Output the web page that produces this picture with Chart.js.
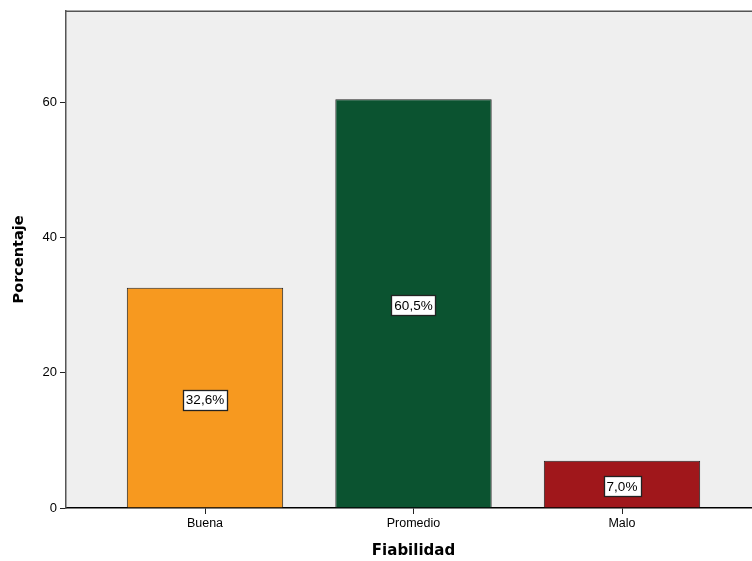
<!DOCTYPE html>
<html>
<head>
<meta charset="utf-8">
<script src="https://cdn.jsdelivr.net/npm/chart.js@4.4.1/dist/chart.umd.min.js"></script>
<style>
  html, body { margin: 0; padding: 0; background: #fff; overflow: hidden; }
  #wrap { position: relative; width: 770px; height: 561px; }
</style>
</head>
<body>
<div id="wrap"><canvas id="c"></canvas></div>
<script>
const categories = ['Buena', 'Promedio', 'Malo'];
const percentages = [32.6, 60.5, 7.0];
const barColors = ['#F7991F', '#0B5330', '#A0171B'];
const yTicks = [0, 20, 40, 60];
const xTitle = 'Fiabilidad';
const yTitle = 'Porcentaje';

const bgPlugin = {
  id: 'bg',
  beforeDraw(chart) {
    const {ctx, chartArea: a} = chart;
    ctx.save();
    ctx.fillStyle = '#EFEFEF';
    ctx.fillRect(a.left, a.top, a.right - a.left, a.bottom - a.top);
    ctx.restore();
  },
  afterDraw(chart) {
    const {ctx, chartArea: a} = chart;
    ctx.save();
    ctx.strokeStyle = '#555';
    ctx.lineWidth = 1.5;
    ctx.beginPath();
    ctx.moveTo(a.left, a.top + 0.5);
    ctx.lineTo(a.right, a.top + 0.5);
    ctx.lineTo(a.right, a.bottom);
    ctx.stroke();
    ctx.restore();
  }
};

const labelPlugin = {
  id: 'valLabels',
  afterDatasetsDraw(chart) {
    const {ctx} = chart;
    const meta = chart.getDatasetMeta(0);
    ctx.save();
    ctx.font = '13.5px "Liberation Sans", Arial, sans-serif';
    ctx.textAlign = 'center';
    ctx.textBaseline = 'middle';
    meta.data.forEach((el, i) => {
      const txt = percentages[i].toFixed(1).replace('.', ',') + '%';
      const cx = el.x;
      const cy = (el.y + el.base) / 2 + 2;
      const w = ctx.measureText(txt).width + 6;
      const h = 20;
      const x0 = Math.round(cx - w / 2) + 0.5, y0 = Math.round(cy - h / 2) + 0.5;
      ctx.fillStyle = '#fff';
      ctx.fillRect(x0, y0, Math.round(w), h);
      ctx.strokeStyle = '#222';
      ctx.lineWidth = 1.3;
      ctx.strokeRect(x0, y0, Math.round(w), h);
      ctx.fillStyle = '#000';
      ctx.fillText(txt, cx, cy + 1);
    });
    ctx.restore();
  }
};

new Chart(document.getElementById('c'), {
  type: 'bar',
  data: {
    datasets: [{
      data: categories.map((c, i) => ({x: i + 1, y: percentages[i]})),
      backgroundColor: barColors,
      borderColor: '#222',
      borderWidth: 1,
      barPercentage: 0.75,
      categoryPercentage: 1.0
    }]
  },
  options: {
    responsive: true,
    maintainAspectRatio: false,
    animation: false,
    devicePixelRatio: 1,
    layout: { padding: { top: 10, right: 9, left: 0, bottom: 0 } },
    plugins: { legend: { display: false }, tooltip: { enabled: false } },
    scales: {
      x: {
        type: 'linear',
        offset: false,
        min: 1 / 3,
        max: 11 / 3,
        afterBuildTicks(scale) { scale.ticks = categories.map((c, i) => ({value: i + 1})); },
        afterFit(scale) { scale.height = 53; },
        ticks: {
          callback: (v) => categories[Math.round(v) - 1] || '',
          color: '#000',
          font: { family: '"Liberation Sans", Arial, sans-serif', size: 12.5 },
          padding: 2,
          maxRotation: 0,
          autoSkip: false
        },
        grid: { offset: false, drawOnChartArea: false, drawTicks: true, tickLength: 6, color: '#222' },
        border: { display: true, color: '#000', width: 1.5 },
        title: {
          display: true, text: xTitle, color: '#000',
          font: { family: '"DejaVu Sans", sans-serif', size: 15, weight: 'bold' },
          padding: { top: 1, bottom: 1 }
        }
      },
      y: {
        min: 0,
        max: 73.6,
        afterBuildTicks(scale) { scale.ticks = yTicks.map(v => ({value: v})); },
        afterFit(scale) { scale.width = 66; },
        ticks: {
          color: '#000',
          font: { family: '"Liberation Sans", Arial, sans-serif', size: 13 },
          padding: 3
        },
        grid: { drawOnChartArea: false, drawTicks: true, tickLength: 6, color: '#222' },
        border: { display: true, color: '#555', width: 1.5 },
        title: {
          display: true, text: yTitle, color: '#000',
          font: { family: '"DejaVu Sans", sans-serif', size: 14.5, weight: 'bold' },
          padding: { top: 11, bottom: 11 }
        }
      }
    }
  },
  plugins: [bgPlugin, labelPlugin]
});
</script>
</body>
</html>
